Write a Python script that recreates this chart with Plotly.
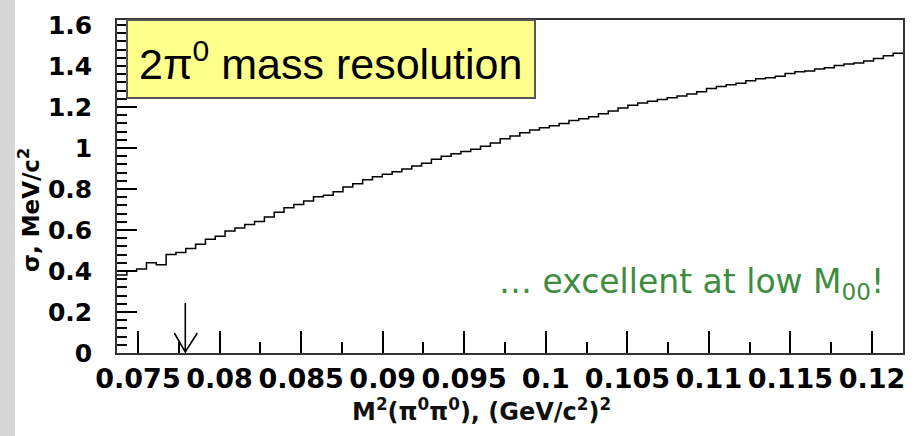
import plotly.graph_objects as go

# ---- data ----
m2_low = 0.073713          # left edge of first bin, (GeV/c^2)^2
m2_high = 0.121901         # right edge of last bin
sigma_mev = [
    0.38, 0.40, 0.41, 0.44, 0.43, 0.48, 0.49, 0.51, 0.53, 0.555,
    0.57, 0.595, 0.61, 0.627, 0.642, 0.663, 0.687, 0.709, 0.724, 0.742,
    0.762, 0.77, 0.787, 0.81, 0.826, 0.845, 0.86, 0.872, 0.884, 0.898,
    0.912, 0.926, 0.945, 0.96, 0.972, 0.983, 0.994, 1.008, 1.025, 1.045,
    1.058, 1.075, 1.088, 1.099, 1.108, 1.12, 1.134, 1.143, 1.152, 1.167,
    1.18, 1.195, 1.208, 1.22, 1.228, 1.236, 1.245, 1.254, 1.263, 1.275,
    1.29, 1.30, 1.308, 1.316, 1.328, 1.338, 1.343, 1.35, 1.363, 1.372,
    1.376, 1.385, 1.392, 1.402, 1.41, 1.415, 1.425, 1.437, 1.45, 1.462,
]
threshold_m2 = 0.0779      # arrow position (2 m_pi+)^2

x_tick_vals = [0.075, 0.08, 0.085, 0.09, 0.095, 0.1, 0.105, 0.11, 0.115, 0.12]
x_tick_text = ["0.075", "0.08", "0.085", "0.09", "0.095", "0.1", "0.105", "0.11", "0.115", "0.12"]
y_tick_vals = [0, 0.2, 0.4, 0.6, 0.8, 1.0, 1.2, 1.4, 1.6]
y_tick_text = ["0", "0.2", "0.4", "0.6", "0.8", "1", "1.2", "1.4", "1.6"]

title_box_text = "2π<sup>0</sup> mass resolution"
note_text = "… excellent at low M<sub>00</sub>!"
x_title = "M<sup>2</sup>(π<sup>0</sup>π<sup>0</sup>), (GeV/c<sup>2</sup>)<sup>2</sup>"
y_title = "σ, MeV/c<sup>2</sup>"

# ---- build step histogram ----
n = len(sigma_mev)
w = (m2_high - m2_low) / n
xs = [m2_low + i * w for i in range(n)] + [m2_high]
ys = sigma_mev + [sigma_mev[-1]]

W, H = 919, 436
L, R, T, B = 117, 16, 20, 83
pw, ph = W - L - R, H - T - B


def px(xp):
    return (xp - L) / pw


def py(yp):
    return (H - B - yp) / ph


fig = go.Figure()
fig.add_trace(go.Scatter(x=xs, y=ys, mode="lines", line=dict(color="black", width=1.5, shape="hv"),
                         hoverinfo="skip", showlegend=False))

ytickfont = dict(family="DejaVu Sans", size=25, color="black", weight="bold")
xtickfont = dict(family="DejaVu Sans", size=27, color="black", weight="bold")

fig.update_layout(
    width=W, height=H,
    margin=dict(l=L, r=R, t=T, b=B, pad=0),
    paper_bgcolor="white", plot_bgcolor="white",
    showlegend=False,
    xaxis=dict(range=[m2_low, m2_high], tickmode="array", tickvals=x_tick_vals, ticktext=x_tick_text,
               ticks="inside", ticklen=22, tickwidth=1.5, tickcolor="black",
               minor=dict(tickmode="linear", tick0=0.0725, dtick=0.005, ticks="inside", ticklen=11,
                          tickwidth=1.5, tickcolor="black"),
               showgrid=False, zeroline=False, showline=True, linecolor="#333", linewidth=1.5,
               mirror=True, tickfont=xtickfont, ticklabelstandoff=1, automargin=False),
    yaxis=dict(range=[0, 1.6244], tickmode="array", tickvals=y_tick_vals, ticktext=y_tick_text,
               ticks="inside", ticklen=20, tickwidth=1.5, tickcolor="black",
               minor=dict(tickmode="linear", tick0=0, dtick=0.04, ticks="inside", ticklen=10,
                          tickwidth=1.5, tickcolor="black"),
               showgrid=False, zeroline=False, showline=True, linecolor="#333", linewidth=1.5,
               mirror=True, tickfont=ytickfont, ticklabelstandoff=18, automargin=False),
)

shapes = [
    # grey slide border on the left
    dict(type="rect", xref="paper", yref="paper", x0=px(0), x1=px(15), y0=py(H), y1=py(0),
         fillcolor="#d6d6d6", line=dict(width=0), layer="below"),
    # yellow title box
    dict(type="rect", xref="paper", yref="paper", x0=px(127), x1=px(535), y0=py(98), y1=py(20),
         fillcolor="#ffff8c", line=dict(color="#555", width=2), layer="above"),
    # arrow at threshold
    dict(type="path", xref="x", yref="y", xsizemode="pixel", ysizemode="pixel",
         xanchor=threshold_m2, yanchor=0,
         path="M -11,20 L 0,1 L 12,20 M 0,1 L 0,50",
         line=dict(color="black", width=1.6)),
]
fig.update_layout(shapes=shapes)

annotations = [
    dict(text=title_box_text, xref="paper", yref="paper", x=px(137), y=py(61),
         xanchor="left", yanchor="middle", showarrow=False,
         font=dict(family="Liberation Sans", size=43, color="black")),
    dict(text=note_text, xref="paper", yref="paper", x=px(886), y=py(283),
         xanchor="right", yanchor="middle", showarrow=False,
         font=dict(family="DejaVu Sans", size=33, color="#3e8c3e")),
    dict(text=x_title, xref="paper", yref="paper", x=px(481), y=py(410),
         xanchor="center", yanchor="middle", showarrow=False,
         font=dict(family="DejaVu Sans", size=24, color="#111", weight="bold")),
    dict(text=y_title, xref="paper", yref="paper", x=px(29), y=py(210),
         xanchor="center", yanchor="middle", showarrow=False, textangle=-90,
         font=dict(family="DejaVu Sans", size=23, color="black", weight="bold")),
]
fig.update_layout(annotations=annotations)

fig.write_html("out.html", post_script="document.body.style.margin='0';",
               config={"displayModeBar": False})
